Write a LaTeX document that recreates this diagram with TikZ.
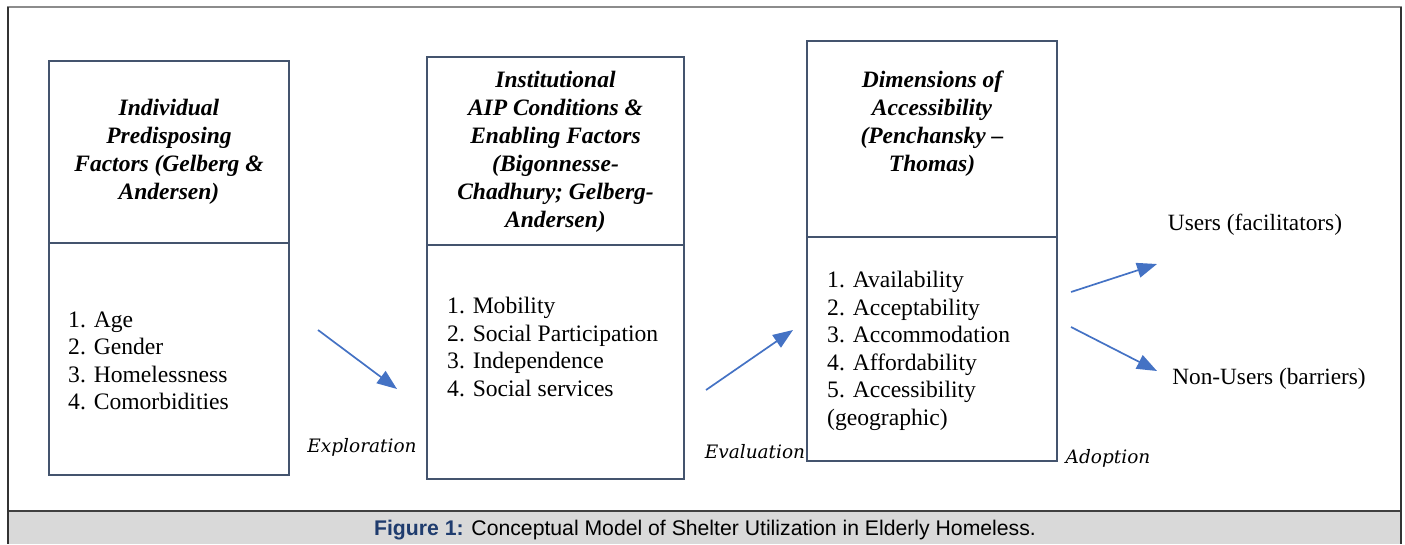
\documentclass[tikz,border=0pt]{standalone}
\usepackage{fontspec}
\setmainfont{Liberation Serif}
\newfontfamily\labelfont{DejaVu Serif}
\newfontfamily\capfont{Liberation Sans}
\usetikzlibrary{arrows.meta}
\definecolor{boxline}{RGB}{68,84,110}
\definecolor{arrowblue}{RGB}{68,114,196}
\definecolor{capgray}{RGB}{217,217,217}
\definecolor{capblue}{RGB}{31,60,110}
\tikzset{
  panel/.style={draw=boxline, line width=2.8pt, rectangle, inner sep=0pt, minimum width=#1},
  headtext/.style={align=center, inner sep=0pt, font=\fontsize{23.5}{28}\selectfont\bfseries\itshape},
  listtext/.style={align=left, inner sep=0pt, anchor=west, font=\fontsize{23.6}{27.5}\selectfont},
  outtext/.style={inner sep=0pt, font=\fontsize{23.3}{27.5}\selectfont},
  phase/.style={inner sep=0pt, font=\labelfont\fontsize{18.5}{22}\selectfont\itshape},
  flow/.style={draw=arrowblue, line width=1.7pt, -{Triangle[length=20pt,width=15pt]}},
}
\begin{document}
\begin{tikzpicture}[x=1pt,y=-1pt]
\useasboundingbox (0,0) rectangle (1405,544);
% frame and caption bar
\fill[capgray] (8,511) rectangle (1401,544);
\draw[color=black!75, line width=1.5pt] (8,511) -- (1401,511);
\draw[color=black!45, line width=2.5pt] (7,7) -- (1402,7);
\draw[color=black!80, line width=1.6pt] (8,7) -- (8,544);
\draw[color=black!80, line width=1.6pt] (1401,7) -- (1401,544);

% first stage
\node[panel=240pt, minimum height=182pt] (h1) at (169,152) {};
\node[panel=240pt, minimum height=232pt] (b1) at (169,359) {};
\node[headtext] (h1t) at (169,152) {Individual\\Predisposing\\Factors (Gelberg \&\\Andersen)};
\node[listtext] (b1t) at (68,361) {1. Age\\2. Gender\\3. Homelessness\\4. Comorbidities};

% second stage
\node[panel=257pt, minimum height=188pt] (h2) at (555.5,151) {};
\node[panel=257pt, minimum height=234pt] (b2) at (555.5,362) {};
\node[headtext] (h2t) at (555.5,152) {Institutional\\AIP Conditions \&\\Enabling Factors\\(Bigonnesse-\\Chadhury; Gelberg-\\Andersen)};
\node[listtext] (b2t) at (447,347) {1. Mobility\\2. Social Participation\\3. Independence\\4. Social services};

% third stage
\node[panel=250pt, minimum height=196pt] (h3) at (932,139) {};
\node[panel=250pt, minimum height=224pt] (b3) at (932,349) {};
\node[headtext] (h3t) at (932,124) {Dimensions of\\Accessibility\\(Penchansky --\\Thomas)};
\node[listtext] (b3t) at (827,351) {1. Availability\\2. Acceptability\\3. Accommodation\\4. Affordability\\5. Accessibility\\(geographic)};

% outcomes
\node[outtext] (users) at (1255,225) {Users (facilitators)};
\node[outtext] (nonusers) at (1269,379) {Non-Users (barriers)};

% phase labels
\node[phase] (explore) at (362,447) {Exploration};
\node[phase] (evaluate) at (755,452) {Evaluation};
\node[phase] (adopt) at (1108,458) {Adoption};

% arrow end points
\coordinate (e1s) at (318,330); \coordinate (e1e) at (397,389);
\coordinate (e2s) at (706,390); \coordinate (e2e) at (793,330);
\coordinate (e3s) at (1071,292); \coordinate (e3e) at (1157,264);
\coordinate (e4s) at (1071,327); \coordinate (e4e) at (1157,371);
\draw[flow] (e1s) -- (e1e);
\draw[flow] (e2s) -- (e2e);
\draw[flow] (e3s) -- (e3e);
\draw[flow] (e4s) -- (e4e);

% caption
\node[inner sep=0pt, font=\capfont\fontsize{21.2}{24}\selectfont] (cap) at (705,530)
  {\textcolor{capblue}{\bfseries Figure 1:} Conceptual Model of Shelter Utilization in Elderly Homeless.};
\end{tikzpicture}
\end{document}
